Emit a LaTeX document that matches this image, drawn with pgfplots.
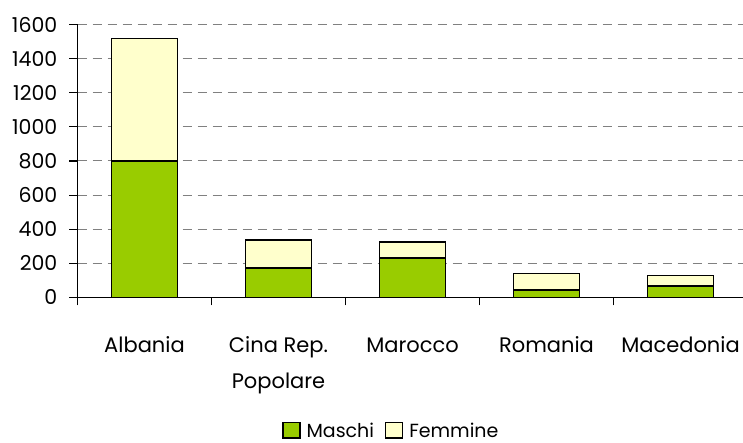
\documentclass[border=0pt]{standalone}
\usepackage{pgfplots}
\pgfplotsset{compat=1.18}
\usepackage{fontspec}
\setmainfont{Poppins}
\definecolor{maschi}{HTML}{99CC00}
\definecolor{femmine}{HTML}{FFFFCC}
\definecolor{gridgray}{HTML}{808080}
\begin{document}
\begin{tikzpicture}[x=1pt,y=1pt]
\useasboundingbox (0,0) rectangle (743,443);
\begin{axis}[
  at={(77.5pt,145.7pt)}, anchor=south west,
  scale only axis, width=670pt, height=272.6pt,
  xmin=-0.5, xmax=4.5, ymin=0, ymax=1600,
  axis x line=bottom, axis y line=left,
  axis line style={-, black, line width=1.1pt},
  xtick={0,1,2,3,4},
  xticklabels={\vphantom{l}Albania, {\vphantom{l}Cina Rep.\\Popolare}, \vphantom{l}Marocco, \vphantom{l}Romania, \vphantom{l}Macedonia},
  major x tick style={draw=none},
  minor xtick={-0.5,0.5,1.5,2.5,3.5},
  minor tick length=8pt,
  major tick length=8pt,
  tick align=outside,
  tick style={black, line width=1.1pt},
  ytick={0,200,...,1600},
  ymajorgrids,
  grid style={gridgray, line width=1pt, dash pattern=on 9pt off 6pt},
  /pgf/number format/assume math mode=true,
  /pgf/number format/1000 sep={},
  yticklabel style={font=\fontsize{20.5}{24}\selectfont, anchor=east, inner sep=0pt, xshift=-12pt},
  xticklabel style={font=\fontsize{21}{36}\selectfont, align=center, anchor=north, inner sep=0pt, yshift=-31pt},
  ybar stacked, bar width=66pt,
  legend columns=2,
  legend style={draw=none, fill=none, inner sep=0pt, at={(0.467,-0.488)}, anchor=center, font=\fontsize{19}{21}\selectfont,
    nodes={inner sep=0pt},
    /tikz/every odd column/.append style={column sep=6pt},
    /tikz/every even column/.append style={column sep=11pt}},
  legend image code/.code={\draw[#1, draw=black, line width=1.2pt] (0pt,-7.5pt) rectangle (17pt,8pt);},
  clip=false,
]
\addplot[fill=maschi, draw=black, line width=1.4pt] coordinates {(0,800) (1,172) (2,231) (3,43) (4,66)};
\addplot[fill=femmine, draw=black, line width=1.4pt] coordinates {(0,718) (1,164) (2,94) (3,96) (4,61)};
\legend{Maschi, Femmine}
\end{axis}
\end{tikzpicture}
\end{document}
